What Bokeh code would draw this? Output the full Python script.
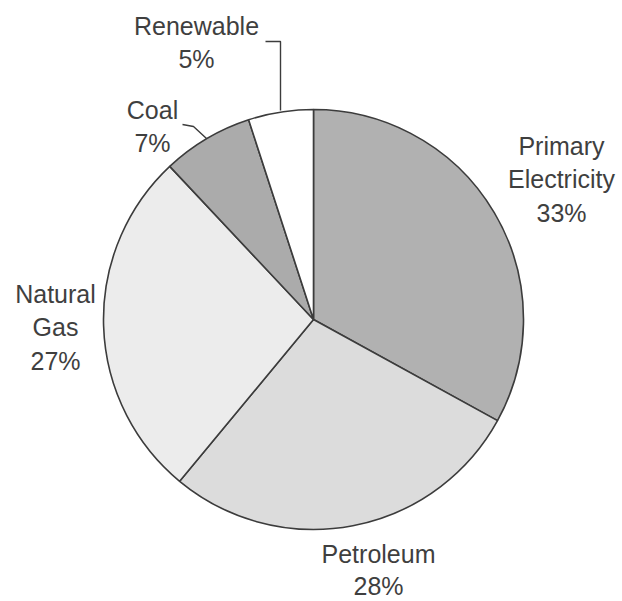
import numpy as np
from bokeh.plotting import figure
from bokeh.models import Range1d
from bokeh.core.properties import value
from bokeh.embed import file_html
from bokeh.resources import INLINE

# Energy sources, shares in percent, drawn clockwise from 12 o'clock
sources = ["Primary Electricity", "Petroleum", "Natural Gas", "Coal", "Renewable"]
shares = [33, 28, 27, 7, 5]
colors = ["#b1b1b1", "#dcdcdc", "#ececec", "#ababab", "#ffffff"]

# label lines and their anchor (center x, middle of first line in page pixels)
label_lines = [
    ["Primary", "Electricity", "33%"],
    ["Petroleum", "28%"],
    ["Natural", "Gas", "27%"],
    ["Coal", "7%"],
    ["Renewable", "5%"],
]
label_anchor = [(561, 145), (378, 553), (55, 293), (152, 109), (196, 25)]
LINE_STEP = 33.5

W, H = 622, 601
CX, CY, R = 313, 319, 210

p = figure(width=W, height=H, output_backend="svg", toolbar_location=None,
           x_range=Range1d(0, W), y_range=Range1d(H, 0),
           min_border=0, outline_line_color=None)
p.axis.visible = False
p.grid.visible = False
p.background_fill_color = "white"
p.border_fill_color = "white"

# wedges run clockwise from the top; angles are measured on screen
frac = np.array(shares, dtype=float) / sum(shares)
cum = np.concatenate([[0.0], np.cumsum(frac)])
a_from = np.pi / 2 - cum[:-1] * 2 * np.pi
a_to = np.pi / 2 - cum[1:] * 2 * np.pi
p.wedge(x=[CX] * len(shares), y=[CY] * len(shares), radius=R,
        start_angle=a_to, end_angle=a_from, direction="anticlock",
        fill_color=colors, line_color="#3c3c3c", line_width=1.6)

# leader lines for the two small slices
p.line([182, 193, 206], [124, 126, 138], line_color="#3c3c3c", line_width=1.4)
p.line([265, 280, 280], [41, 41, 110], line_color="#3c3c3c", line_width=1.4)

for lines, (lx, ly) in zip(label_lines, label_anchor):
    step = 32 if lines[0] == "Petroleum" else LINE_STEP
    p.text(x=[lx] * len(lines), y=[ly + i * step for i in range(len(lines))],
           text=lines, text_align="center", text_baseline="middle",
           text_font=value("Liberation Sans"), text_font_size="25px",
           text_color="#3f3f3f")

open("out.html", "w").write(file_html(p, INLINE))
